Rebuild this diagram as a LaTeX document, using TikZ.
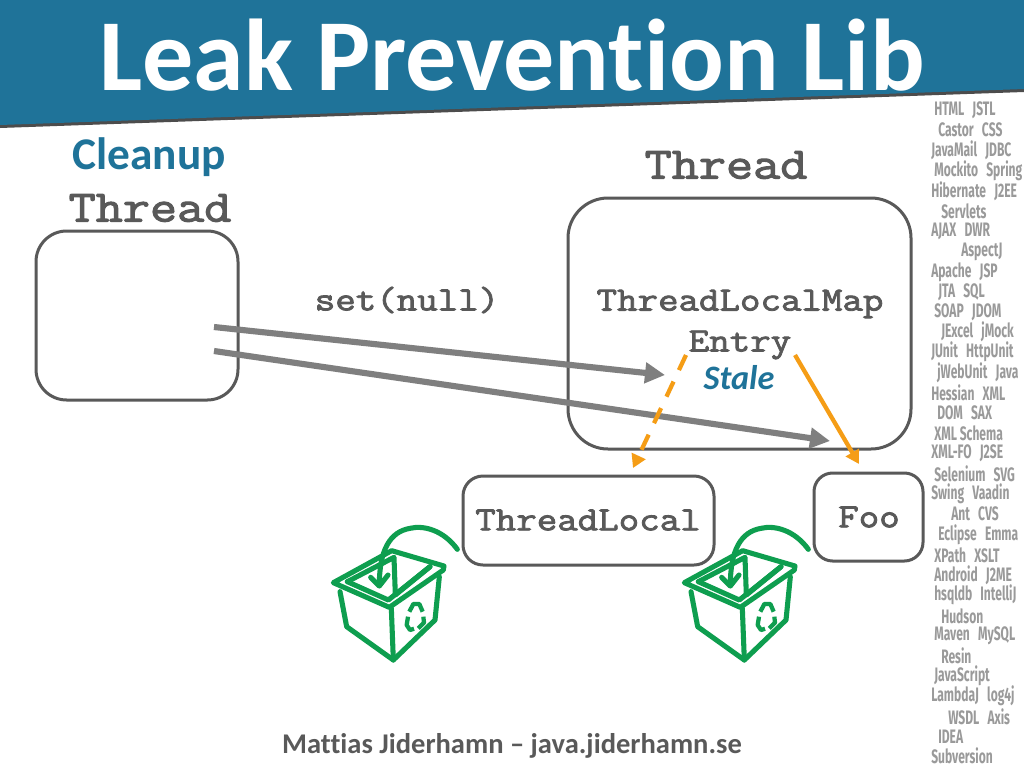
\documentclass[tikz,border=0pt]{standalone}
\usepackage{fontspec}
\setmainfont{Carlito}[Ligatures=CommonOff]
\newfontfamily\codefont{Latin Modern Mono}[FakeStretch=1.17,FakeBold=2.4]
\newfontfamily\sidefont{Fira Sans}[FakeStretch=0.62]
\usetikzlibrary{arrows.meta}
\definecolor{band}{HTML}{1F7399}
\definecolor{ink}{HTML}{595959}
\definecolor{arrowgrey}{HTML}{7F7F7F}
\definecolor{orangeline}{HTML}{F59D16}
\definecolor{bin}{HTML}{0E9E4F}
\definecolor{sidegrey}{HTML}{9A9A9A}
\tikzset{
  roundbox/.style={draw=ink,line width=2.25pt,fill=white},
  code/.style={font=\codefont\fontsize{25.5pt}{28pt}\selectfont,text=ink,inner sep=0pt},
  bigcode/.style={font=\codefont\fontsize{33.75pt}{36pt}\selectfont,text=ink,inner sep=0pt},
  greyarrow/.style={draw=arrowgrey,line width=4.6pt,-{Triangle[length=15pt,width=15pt]}},
  orangearrow/.style={draw=orangeline,line width=3.2pt,-{Triangle[length=10pt,width=11pt]}},
  binline/.style={draw=bin,line width=3.8pt,line join=round,line cap=round},
  sideword/.style={anchor=west,inner sep=0pt,text=sidegrey,font=\sidefont\bfseries\fontsize{14.6pt}{15pt}\selectfont},
}
\newcommand{\sw}[3]{\node[sideword] (w#2) at (#1,#2) {#3};}
\newcommand{\gp}{\hspace{0.42em}}
\newcommand{\recyclebin}[2]{%
 \begin{scope}[shift={(#1,#2)},x=0.25pt,y=-0.25pt]
  \draw[binline,fill=white] (40,188) -- (215,92) -- (372,138) -- (370,150) -- (208,262) -- cycle;
  \draw[binline] (82,185) -- (222,112) -- (226,225) -- (330,140);
  \draw[binline] (82,185) -- (205,240) -- (330,140);
  \draw[binline] (60,215) -- (80,320) -- (220,420) -- (345,300) -- (358,170);
  \draw[binline] (214,265) -- (220,420);
  \draw[binline] (412,88) .. controls (370,30) and (310,15) .. (270,25) .. controls (210,35) and (178,90) .. (178,195);
  \draw[binline] (152,172) -- (178,198) -- (204,165);
  \draw[draw=bin,line width=3.2pt,line join=round] (268,275) -- (280,252) -- (298,252) -- (308,275);
  \draw[draw=bin,line width=3.2pt,line join=round] (264,290) -- (260,315) -- (270,330) -- (282,326);
  \draw[draw=bin,line width=3.2pt,line join=round] (310,290) -- (312,308) -- (295,325);
 \end{scope}}
\begin{document}
\begin{tikzpicture}[x=0.75pt,y=-0.75pt]
\useasboundingbox (0,0) rectangle (1024,768);
\fill[white] (0,0) rectangle (1024,768);
% title band
\fill[ink!85!black] (0,0) -- (1024,0) -- (1024,92) -- (0,128) -- cycle;
\fill[band] (0,0) -- (1024,0) -- (1024,89) -- (0,125) -- cycle;
\node[text=white,font=\bfseries\fontsize{76.5pt}{80pt}\selectfont,inner sep=0pt] (title) at (512,55) {Leak Prevention Lib};
% boxes
\draw[roundbox,rounded corners=23pt] (36,231) rectangle (238,400);
\draw[roundbox,rounded corners=30pt] (568,198) rectangle (911,449);
\draw[roundbox,rounded corners=15pt] (463,476) rectangle (714,565);
\draw[roundbox,rounded corners=14pt] (814,473) rectangle (923,561);
% labels
\node[text=band,font=\bfseries\fontsize{34pt}{36pt}\selectfont,inner sep=0pt] (cleanup) at (149,157) {Cleanup};
\node[bigcode] (cleanthread) at (150,208) {Thread};
\node[bigcode] (thread) at (726,165) {Thread};
\node[code] (setnull) at (407,300) {set(null)};
\node[code] (tlm) at (740,304) {ThreadLocalMap};
\node[code] (entry) at (740,345) {Entry};
\node[text=band,font=\bfseries\itshape\fontsize{25.7pt}{28pt}\selectfont,inner sep=0pt] (stale) at (739,378) {Stale};
\node[code] (tl) at (588,520) {ThreadLocal};
\node[code] (foo) at (869,517) {Foo};
\node[text=ink,font=\bfseries\fontsize{21.4pt}{24pt}\selectfont,inner sep=0pt] (footer) at (512,746) {Mattias Jiderhamn – java.jiderhamn.se};
% connectors
\coordinate (a1s) at (214,327); \coordinate (a1e) at (665,375);
\coordinate (a2s) at (214,351); \coordinate (a2e) at (830,441);
\coordinate (o1s) at (686,355); \coordinate (o1e) at (633,468);
\coordinate (o2s) at (795,355); \coordinate (o2e) at (859,464);
\draw[greyarrow] (a1s) -- (a1e);
\draw[greyarrow] (a2s) -- (a2e);
\draw[orangearrow,dash pattern=on 12.5pt off 9.5pt] (o1s) -- (o1e);
\draw[orangearrow] (o2s) -- (o2e);
% bins
\recyclebin{320}{520}
\recyclebin{671}{520}
% side words
\sw{934}{110}{HTML\gp JSTL}
\sw{938}{130}{Castor\gp CSS}
\sw{931}{150}{JavaMail\gp JDBC}
\sw{934}{171}{Mockito\gp Spring}
\sw{931}{191}{Hibernate\gp J2EE}
\sw{941}{211}{Servlets}
\sw{931}{231}{AJAX\gp DWR}
\sw{961}{252}{AspectJ}
\sw{931}{272}{Apache\gp JSP}
\sw{938}{292}{JTA\gp SQL}
\sw{934}{312}{SOAP\gp JDOM}
\sw{941}{332}{JExcel\gp jMock}
\sw{931}{352}{JUnit\gp HttpUnit}
\sw{937}{373}{jWebUnit\gp Java}
\sw{931}{393}{Hessian\gp XML}
\sw{937}{413}{DOM\gp SAX}
\sw{934}{433}{XML Schema}
\sw{931}{453}{XML-FO\gp J2SE}
\sw{934}{474}{Selenium\gp SVG}
\sw{931}{494}{Swing\gp Vaadin}
\sw{951}{514}{Ant\gp CVS}
\sw{938}{535}{Eclipse\gp Emma}
\sw{934}{555}{XPath\gp XSLT}
\sw{934}{575}{Android\gp J2ME}
\sw{934}{595}{hsqldb\gp IntelliJ}
\sw{941}{616}{Hudson}
\sw{934}{636}{Maven\gp MySQL}
\sw{941}{656}{Resin}
\sw{934}{676}{JavaScript}
\sw{931}{696}{LambdaJ\gp log4j}
\sw{948}{717}{WSDL\gp Axis}
\sw{938}{737}{IDEA}
\sw{931}{756}{Subversion}
\end{tikzpicture}
\end{document}
